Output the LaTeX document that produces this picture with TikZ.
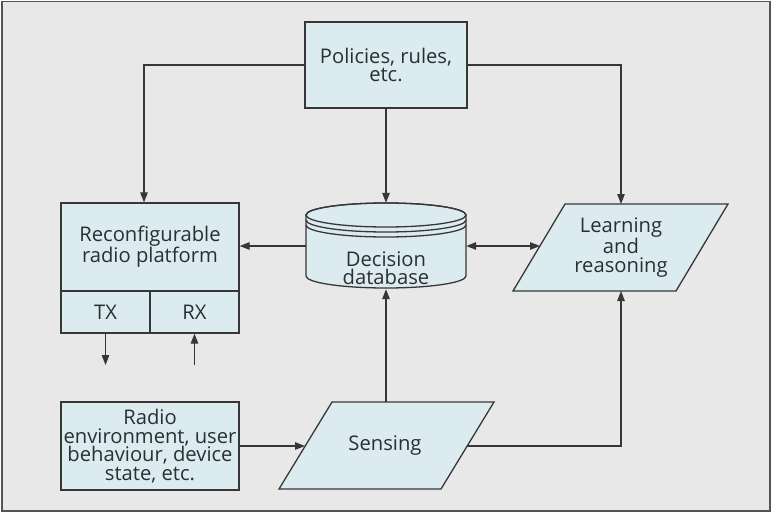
\documentclass[tikz,border=0pt]{standalone}
\usepackage{fontspec}
\setmainfont{Open Sans}
\usetikzlibrary{arrows.meta,calc}
\definecolor{bg}{RGB}{232,232,232}
\definecolor{boxfill}{RGB}{220,235,239}
\definecolor{ln}{RGB}{55,55,55}
\definecolor{txt}{RGB}{42,47,50}
\begin{document}
\begin{tikzpicture}[x=1pt,y=1pt,
  every node/.style={text=txt, font=\fontsize{20.2}{18.5}\selectfont},
  box/.style={draw=ln, line width=1.3pt, fill=boxfill, inner sep=0pt, align=center},
  lbl/.style={inner sep=0pt, align=center},
  conn/.style={draw=ln, line width=1.3pt},
  arr/.style={conn, -{Triangle[length=10pt,width=7.5pt]}},
  darr/.style={conn, {Triangle[length=10pt,width=7.5pt]}-{Triangle[length=10pt,width=7.5pt]}}]

\useasboundingbox (0,0) rectangle (772,-514);
\draw[fill=bg, draw=ln!85, line width=1.8pt] (2,-1.5) rectangle (770,-511);

% boxes
\node[box, minimum width=162pt, minimum height=86pt] (pol) at (386,-65) {Policies, rules,\\etc.};
\node[box, minimum width=178pt, minimum height=88pt] (rrp) at (150,-247) {Reconfigurable\\radio platform};
\node[box, minimum width=89pt, minimum height=42pt] (tx) at (105.5,-312) {TX};
\node[box, minimum width=89pt, minimum height=42pt] (rx) at (194.5,-312) {RX};
\node[box, minimum width=178pt, minimum height=88pt] (env) at (150,-446) {Radio\\environment, user\\behaviour, device\\state, etc.};

% database cylinder
\filldraw[conn, fill=boxfill] (306,-215) -- (306,-276)
  arc[start angle=180, end angle=360, x radius=80pt, y radius=12pt]
  -- (466,-215)
  arc[start angle=0, end angle=180, x radius=80pt, y radius=12pt] -- cycle;
\draw[conn] (386,-215) ellipse[x radius=80pt, y radius=12pt];
\draw[conn] (306,-220) arc[start angle=180, end angle=360, x radius=80pt, y radius=12pt];
\draw[conn] (306,-225) arc[start angle=180, end angle=360, x radius=80pt, y radius=12pt];
\node[lbl, minimum width=160pt, minimum height=86pt] (db) at (386,-246) {};
\node[lbl] (dbtext) at (386,-268) {Decision\\database};

% learning parallelogram
\filldraw[conn, fill=boxfill] (565,-204) -- (728,-204) -- (676,-291) -- (513,-291) -- cycle;
\node[lbl] (learn) at (621,-247.5) {Learning\\and\\reasoning};
\coordinate (learnT) at (621,-204);
\coordinate (learnB) at (621,-291);
\coordinate (learnL) at (540,-246);

% sensing parallelogram
\filldraw[conn, fill=boxfill] (332,-402) -- (494,-402) -- (441,-489) -- (279,-489) -- cycle;
\node[lbl] (sense) at (385,-446) {Sensing};
\coordinate (senseT) at (386,-402);
\coordinate (senseL) at (305,-446);
\coordinate (senseR) at (467,-446);

% free ends
\coordinate (txout) at (105.5,-365);
\coordinate (rxin) at (194.5,-365);

% connectors
\draw[arr] (pol.west) -| ($(rrp.north)+(-6,0)$);
\draw[arr] (pol.east) -| (learnT);
\draw[arr] (pol.south) -- (db.north);
\draw[arr] (db.west) -- (db.west -| rrp.east);
\draw[darr] (db.east) -- (learnL);
\draw[arr] (senseT) -- (db.south);
\draw[arr] (env.east) -- (senseL);
\draw[arr] (senseR) -| (learnB);
\draw[arr] (tx.south) -- (txout);
\draw[arr] (rxin) -- (rx.south);
\end{tikzpicture}
\end{document}
